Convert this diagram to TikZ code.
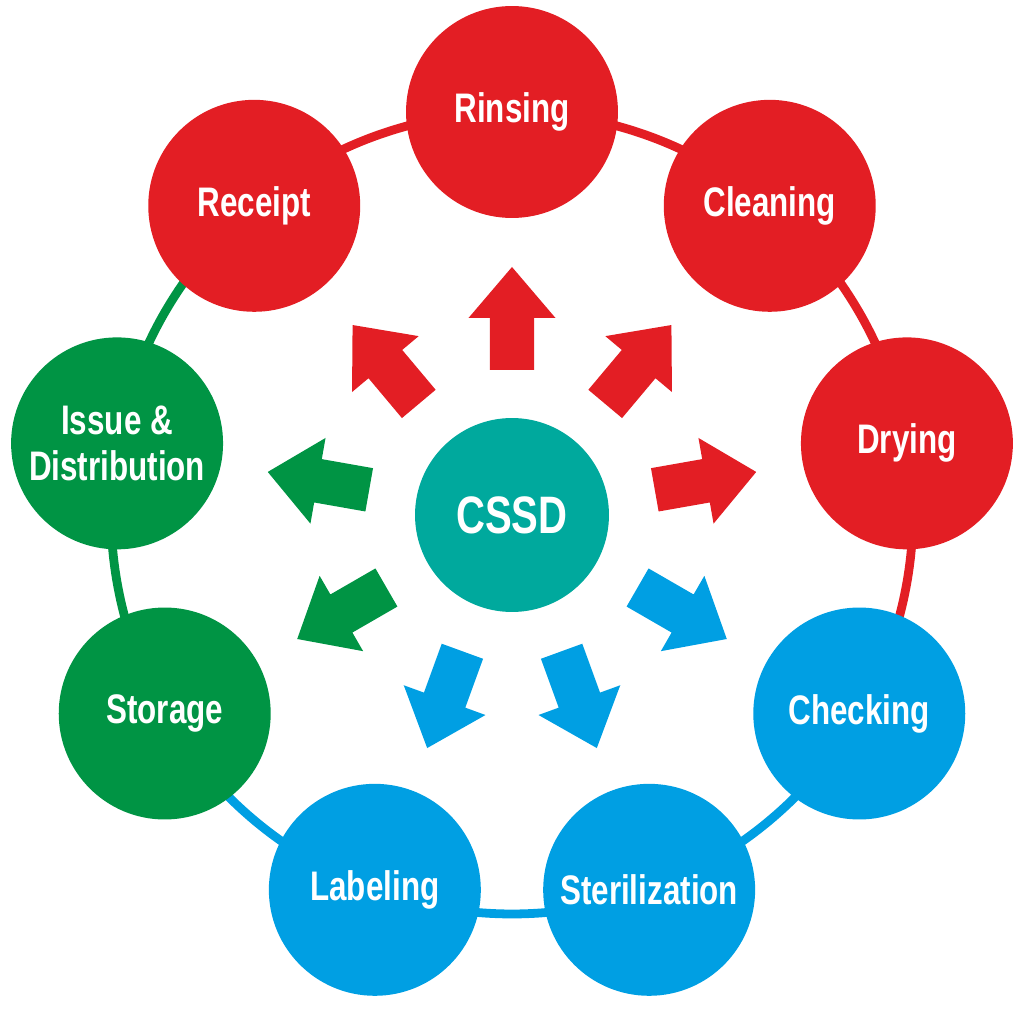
\documentclass[tikz,border=0pt]{standalone}
\usepackage{fontspec}
\setmainfont{Liberation Sans}[FakeStretch=0.76]
\usetikzlibrary{backgrounds}
\definecolor{cssdred}{HTML}{E31E24}
\definecolor{cssdgreen}{HTML}{009444}
\definecolor{cssdblue}{HTML}{009FE3}
\definecolor{cssdteal}{HTML}{00A99D}
\begin{document}
\begin{tikzpicture}[
        x=0.02cm, y=0.02cm,
        stage/.style={
            circle, fill=#1, text=white, align=center, inner sep=0pt,
            minimum size=4.24cm, font=\bfseries\fontsize{23.5}{26.5}\selectfont
        },
        ring/.style={draw=#1, line width=5pt, bend left=20, looseness=0.88},
        flow/.style={fill=#1}
    ]
    \useasboundingbox (-512,-501) rectangle (512,510);

    \begin{scope}[shift={(0,-3)}]
        \node[stage=cssdred]   (rin) at (90:401)   {Rinsing};
        \node[stage=cssdred]   (cle) at (50:401)   {Cleaning};
        \node[stage=cssdred]   (dry) at (10:401)   {Drying};
        \node[stage=cssdblue]  (chk) at (-30:401)  {Checking};
        \node[stage=cssdblue]  (ste) at (-70:401)  {Sterilization};
        \node[stage=cssdblue]  (lab) at (-110:401) {Labeling};
        \node[stage=cssdgreen] (sto) at (-150:401) {Storage};
        \node[stage=cssdgreen] (iss) at (170:401)  {Issue \&\\Distribution};
        \node[stage=cssdred]   (rec) at (130:401)  {Receipt};
    \end{scope}

    \node[circle, fill=cssdteal, text=white, inner sep=0pt, minimum size=3.88cm,
          font=\bfseries\fontsize{30}{34}\selectfont] (cssd) at (0,-5) {CSSD};

    \begin{scope}[on background layer]
        \draw[ring=cssdred]   (rec.center) to (rin.center);
        \draw[ring=cssdred]   (rin.center) to (cle.center);
        \draw[ring=cssdred]   (cle.center) to (dry.center);
        \draw[ring=cssdred]   (dry.center) to (chk.center);
        \draw[ring=cssdblue]  (chk.center) to (ste.center);
        \draw[ring=cssdblue]  (ste.center) to (lab.center);
        \draw[ring=cssdblue]  (lab.center) to (sto.center);
        \draw[ring=cssdgreen] (sto.center) to (iss.center);
        \draw[ring=cssdgreen] (iss.center) to (rec.center);
    \end{scope}

    \foreach \ang/\col in {90/cssdred, 50/cssdred, 10/cssdred, -30/cssdblue, -70/cssdblue,
                           -110/cssdblue, -150/cssdgreen, 170/cssdgreen, 130/cssdred}
        \fill[flow=\col, shift={(cssd.center)}, rotate=\ang]
            (145,-22) -- (197,-22) -- (197,-43.5) -- (248,0) -- (197,43.5) -- (197,22) -- (145,22) -- cycle;
\end{tikzpicture}
\end{document}
